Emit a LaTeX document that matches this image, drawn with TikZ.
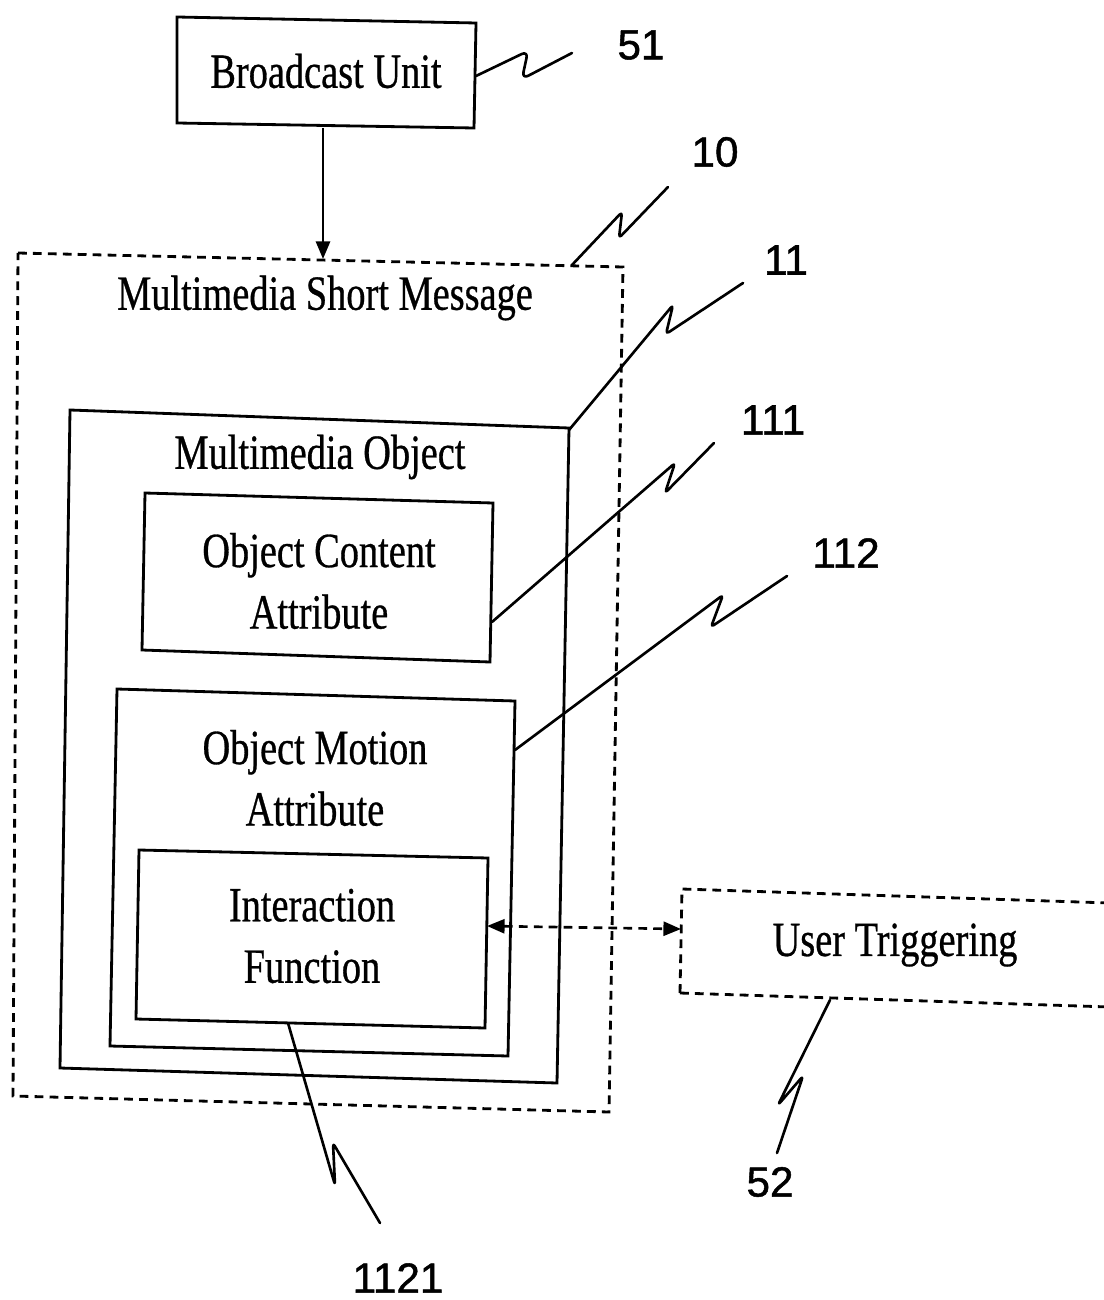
\documentclass[tikz,border=0pt]{standalone}
\usepackage{fontspec}
\setmainfont{Liberation Serif}
\newfontfamily\boxfont[FakeStretch=0.78,FakeBold=0.6]{Liberation Serif}
\newfontfamily\numfont[FakeBold=1.2]{Liberation Sans}
\usetikzlibrary{arrows.meta}
\begin{document}
\begin{tikzpicture}[x=0.02cm,y=-0.02cm,
  box/.style={line width=1.6pt, line join=miter},
  dbox/.style={line width=1.6pt, dash pattern=on 5pt off 3.5pt},
  lead/.style={line width=1.5pt, line join=round, line cap=round, rounded corners=2pt},
  txt/.style={font=\boxfont\fontsize{28}{35}\selectfont, align=center, inner sep=0pt},
  num/.style={font=\numfont\fontsize{24}{28}\selectfont, inner sep=0pt},
  tipend/.style={-{Triangle[length=10pt,width=8pt]}},
  tipboth/.style={{Triangle[length=10pt,width=8pt]}-{Triangle[length=10pt,width=8pt]}}]
\useasboundingbox (0,0) rectangle (1103,1300);

% ---- corners
\coordinate (bu1) at (177,17);  \coordinate (bu2) at (476,23);
\coordinate (bu3) at (474,128); \coordinate (bu4) at (177,123);
\coordinate (ms1) at (18,253);  \coordinate (ms2) at (623,267);
\coordinate (ms3) at (609,1112); \coordinate (ms4) at (13,1096);
\coordinate (mo1) at (70,410);  \coordinate (mo2) at (569,428);
\coordinate (mo3) at (557,1083); \coordinate (mo4) at (60,1068);
\coordinate (oc1) at (145,493); \coordinate (oc2) at (493,503);
\coordinate (oc3) at (490,662); \coordinate (oc4) at (142,650);
\coordinate (om1) at (117,689); \coordinate (om2) at (515,701);
\coordinate (om3) at (508,1056); \coordinate (om4) at (110,1046);
\coordinate (if1) at (139,850); \coordinate (if2) at (488,858);
\coordinate (if3) at (485,1028); \coordinate (if4) at (136,1019);
\coordinate (ut1) at (682,889); \coordinate (ut2) at (1110,903);
\coordinate (ut3) at (1110,1007); \coordinate (ut4) at (680,993);

% ---- boxes
\draw[box] (bu1) -- (bu2) -- (bu3) -- (bu4) -- cycle;
\draw[dbox] (ms1) -- (ms2) -- (ms3) -- (ms4) -- cycle;
\draw[box] (mo1) -- (mo2) -- (mo3) -- (mo4) -- cycle;
\draw[box] (oc1) -- (oc2) -- (oc3) -- (oc4) -- cycle;
\draw[box] (om1) -- (om2) -- (om3) -- (om4) -- cycle;
\draw[box] (if1) -- (if2) -- (if3) -- (if4) -- cycle;
\draw[dbox] (ut4) -- (ut1) -- (ut2);
\draw[dbox] (ut4) -- (ut3);

% ---- texts
\node[txt] (tbu) at (326,71) {Broadcast Unit};
\node[txt] (tms) at (325,298) {Multimedia Short Message};
\node[txt] (tmo) at (320,457) {Multimedia Object};
\node[txt] (toc) at (319,581) {Object Content\\Attribute};
\node[txt] (tom) at (315,778) {Object Motion\\Attribute};
\node[txt] (tif) at (312,936) {Interaction\\Function};
\node[txt] (tut) at (895,945) {User Triggering};

% ---- connectors
\coordinate (buout) at (323,128);
\coordinate (msin) at (323,259);
\draw[line width=1.5pt, tipend] (buout) -- (msin);
\coordinate (ifout) at (487,926);
\coordinate (utin) at (681,929);
\draw[line width=1.5pt, dash pattern=on 5pt off 3.5pt, tipboth] (ifout) -- (utin);

% ---- reference numerals and leaders
\node[num] (n51) at (641,45) {51};
\node[num] (n10) at (715,152) {10};
\node[num] (n11) at (786,260) {11};
\node[num] (n111) at (773,420) {111};
\node[num] (n112) at (846,553) {112};
\node[num] (n52) at (770,1182) {52};
\node[num] (n1121) at (398,1278) {1121};

\coordinate (l51a) at (476,76);
\coordinate (l51b) at (572,53);
\draw[lead, rounded corners=4pt] (l51a) -- (528,51) -- (522,79) -- (l51b);

\coordinate (l10a) at (572,265);
\coordinate (l10b) at (668,187);
\draw[lead] (l10a) -- (622,212) -- (619,238) -- (l10b);

\coordinate (l11a) at (569,430);
\coordinate (l11b) at (743,283);
\draw[lead] (l11a) -- (673,305) -- (666,334) -- (l11b);

\coordinate (l111a) at (492,622);
\coordinate (l111b) at (714,443);
\draw[lead] (l111a) -- (675,463) -- (665,493) -- (l111b);

\coordinate (l112a) at (515,750);
\coordinate (l112b) at (787,576);
\draw[lead] (l112a) -- (723,595) -- (711,627) -- (l112b);

\coordinate (l52a) at (830,1000);
\coordinate (l52b) at (777,1153);
\draw[lead] (l52a) -- (778,1105) -- (803,1076) -- (l52b);

\coordinate (l1121a) at (288,1023);
\coordinate (l1121b) at (380,1223);
\draw[lead] (l1121a) -- (335,1185) -- (333,1143) -- (l1121b);
\end{tikzpicture}
\end{document}
